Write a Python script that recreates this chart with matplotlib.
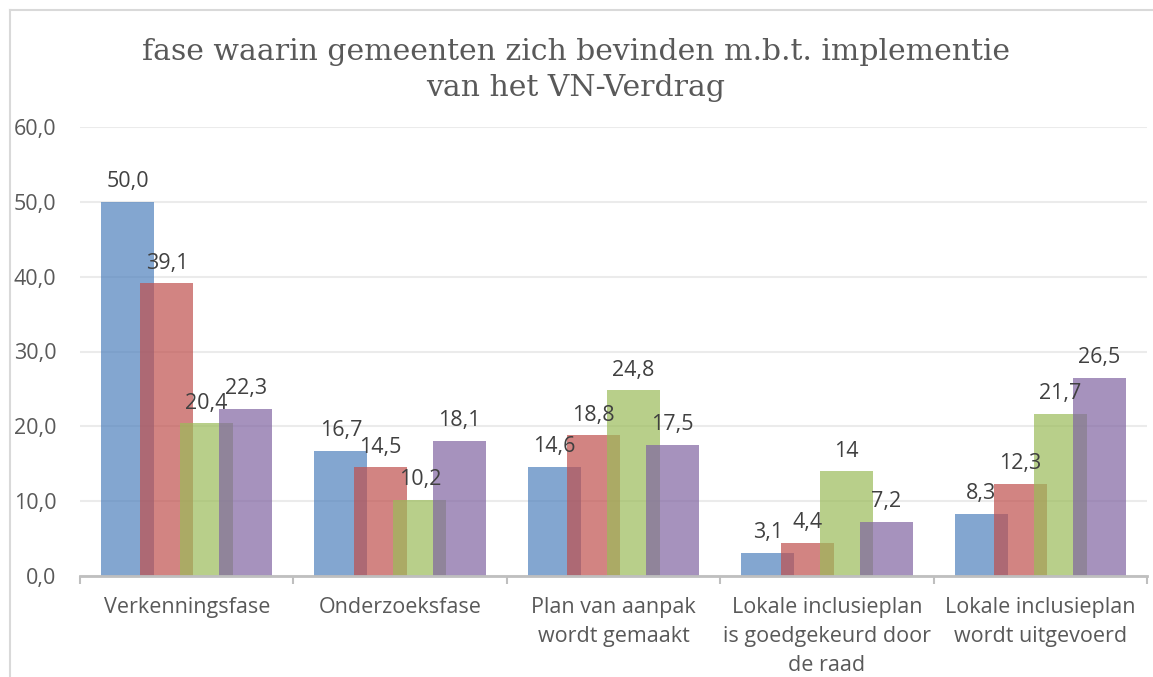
import numpy as np
import matplotlib.pyplot as plt
from matplotlib.lines import Line2D

# Data
categories = ['Verkenningsfase', 'Onderzoeksfase', 'Plan van aanpak\nwordt gemaakt',
              'Lokale inclusieplan\nis goedgekeurd door\nde raad',
              'Lokale inclusieplan\nwordt uitgevoerd']
series_1 = [50.0, 16.7, 14.6, 3.1, 8.3]
series_2 = [39.1, 14.5, 18.8, 4.4, 12.3]
series_3 = [20.4, 10.2, 24.8, 14.0, 21.7]
series_4 = [22.3, 18.1, 17.5, 7.2, 26.5]
labels_1 = ['50,0', '16,7', '14,6', '3,1', '8,3']
labels_2 = ['39,1', '14,5', '18,8', '4,4', '12,3']
labels_3 = ['20,4', '10,2', '24,8', '14', '21,7']
labels_4 = ['22,3', '18,1', '17,5', '7,2', '26,5']
y_ticks = [0, 10, 20, 30, 40, 50, 60]
y_tick_labels = ['0,0', '10,0', '20,0', '30,0', '40,0', '50,0', '60,0']

colors = ['#4F81BD', '#C0504D', '#9BBB59', '#8064A2']
W, H = 1153, 677

fig = plt.figure(figsize=(W / 100, H / 100), dpi=100)
ax = fig.add_axes([80 / W, 101 / H, 1067 / W, 449 / H])

x = np.arange(len(categories))
step = 0.185
width = 0.248
all_series = [series_1, series_2, series_3, series_4]
all_labels = [labels_1, labels_2, labels_3, labels_4]

for j, (vals, labs) in enumerate(zip(all_series, all_labels)):
    pos = x + (j - 1.5) * step
    ax.bar(pos, vals, width=width, color=colors[j], alpha=0.7, zorder=2 + j)
    for p, v, t in zip(pos, vals, labs):
        ax.annotate(t, (p, v), xytext=(0, 7), textcoords='offset points',
                    ha='center', va='bottom', fontsize=15.5, color='#404040',
                    family='Open Sans', zorder=10)

ax.set_xlim(-0.5, len(categories) - 0.5)
ax.set_ylim(0, 60)
ax.set_yticks(y_ticks)
ax.set_yticklabels(y_tick_labels, fontsize=15.5, color='#595959', family='Open Sans')
ax.yaxis.grid(True, color='#EBEBEB', linewidth=1.5, zorder=0)
ax.set_axisbelow(True)
ax.tick_params(axis='y', length=0, pad=17)

ax.set_xticks(x)
ax.set_xticklabels(categories, fontsize=15.5, color='#595959', family='Open Sans',
                   linespacing=1.5)
ax.set_xticks(np.arange(-0.5, len(categories)), minor=True)
ax.tick_params(axis='x', which='major', length=0, pad=15)
ax.tick_params(axis='x', which='minor', length=6, width=1.5, color='#BFBFBF')

for s in ['left', 'right', 'top']:
    ax.spines[s].set_visible(False)
ax.spines['bottom'].set_color('#BFBFBF')
ax.spines['bottom'].set_linewidth(2)
ax.spines['bottom'].set_zorder(20)

fig.text(576 / W, 1 - 70 / H, 'fase waarin gemeenten zich bevinden m.b.t. implementie\nvan het VN-Verdrag',
         ha='center', va='center', fontsize=21.5, color='#595959',
         family='DejaVu Serif', linespacing=1.35)

# chart frame (only left and top edges visible)
fig.add_artist(Line2D([9.5 / W, 9.5 / W], [0, 1 - 10 / H], transform=fig.transFigure,
                      color='#D9D9D9', linewidth=1.5))
fig.add_artist(Line2D([9.5 / W, 1], [1 - 10 / H, 1 - 10 / H], transform=fig.transFigure,
                      color='#D9D9D9', linewidth=1.5))

fig.savefig('out.png', dpi=100)
